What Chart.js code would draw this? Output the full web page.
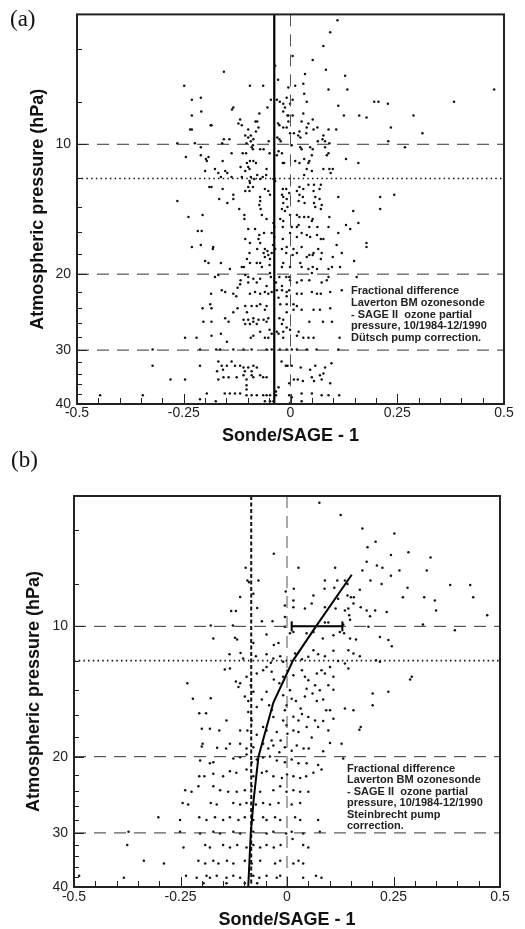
<!DOCTYPE html>
<html>
<head>
<meta charset="utf-8">
<title>Laverton ozonesonde - SAGE II fractional difference</title>
<script src="https://cdn.jsdelivr.net/npm/chart.js@4.4.1/dist/chart.umd.min.js"></script>
<style>
  html, body { margin: 0; padding: 0; background: #fff; }
  body { width: 525px; height: 929px; position: relative; overflow: hidden; }
  canvas { position: absolute; left: 0; }
  #chartA { top: 0; }
  #chartB { top: 460px; }
  .panel { position: absolute; font: 23px/23px 'Liberation Serif', 'Times New Roman', serif; color: #111; }
  .note { position: absolute; font: bold 11px/11.75px 'Liberation Sans', Arial, sans-serif; color: #222; white-space: pre; }
</style>
</head>
<body>
<canvas id="chartA" width="525" height="450"></canvas>
<canvas id="chartB" width="525" height="469"></canvas>
<div class="panel" style="left:10px; top:7px">(a)</div>
<div class="panel" style="left:11px; top:448px">(b)</div>
<div class="note" id="noteA" style="left:351px; top:285px"></div>
<div class="note" id="noteB" style="left:347px; top:763px; line-height:11.4px"></div>
<script>
// axis ticks
const xLabelVals = [-0.5, -0.25, 0, 0.25, 0.5];
const xLabels = ['-0.5', '-0.25', '0', '0.25', '0.5'];
const xMinorStep = 0.05;
const yLabelVals = [10, 20, 30, 40];
const yLabels = ['10', '20', '30', '40'];
const yMinorVals = [6, 8, 12, 14, 16, 18, 22, 24, 26, 28, 32, 34, 36, 38];

const noteA = ['Fractional difference', 'Laverton BM ozonesonde', '- SAGE II  ozone partial',
  'pressure, 10/1984-12/1990', 'Dütsch pump correction.'];
const noteB = ['Fractional difference', 'Laverton BM ozonesonde', '- SAGE II  ozone partial',
  'pressure, 10/1984-12/1990', 'Steinbrecht pump', 'correction.'];

// reference lines
const refPres = [10, 20, 30];
const dotPres = 12;
const aMeanDiff = -0.038;
const bMeanDiff = -0.084;

// (b) smoothed profile and error bar at 10 hPa
const bCurvePres = [7.6, 10, 12, 15, 20, 25, 30, 40];
const bCurveDiff = [0.152, 0.068, 0.014, -0.032, -0.067, -0.078, -0.085, -0.091];
const bErrPres = 10;
const bErrRange = [0.011, 0.130];

// (a) Dütsch correction: pressure levels (hPa) and Sonde/SAGE-1 at each level
const aLevels = [
  5.16, 5.50, 5.92, 6.24, 6.38, 6.58, 6.72, 6.79, 6.87, 6.94,
  7.09, 7.24, 7.32, 7.39, 7.47, 7.64, 7.80, 7.88, 7.97, 8.05,
  8.14, 8.22, 8.31, 8.40, 8.49, 8.58, 8.67, 8.76, 8.85, 8.95,
  9.04, 9.14, 9.24, 9.34, 9.43, 9.54, 9.64, 9.74, 9.84, 9.95,
  10.05, 10.16, 10.27, 10.38, 10.49, 10.60, 10.71, 10.82, 10.94, 11.05,
  11.29, 11.41, 11.53, 11.66, 11.78, 11.91, 12.04, 12.16, 12.29, 12.42,
  12.56, 12.69, 12.83, 12.97, 13.10, 13.25, 13.39, 13.53, 13.68, 13.82,
  13.97, 14.12, 14.27, 14.58, 14.74, 14.90, 15.06, 15.22, 15.38, 15.55,
  15.71, 15.88, 16.05, 16.23, 16.40, 16.58, 16.93, 17.12, 17.30, 17.49,
  17.67, 17.86, 18.05, 18.25, 18.44, 18.64, 18.84, 19.05, 19.25, 19.46,
  19.88, 20.1, 20.3, 20.5, 20.65, 20.9, 21.1, 21.3, 21.5, 21.8,
  22.0, 22.2, 22.5, 22.7, 23.5, 23.7, 24.0, 24.2, 24.5, 25.3,
  25.5, 25.8, 26.1, 26.6, 26.9, 27.2, 27.5, 27.8, 28.1, 28.7,
  29.9, 31.9, 32.2, 32.6, 32.9, 33.3, 33.6, 34.0, 34.3, 34.7,
  35.1, 35.4, 35.8, 36.2, 36.6, 37.0, 37.4, 37.8, 38.2, 38.6,
  39.0, 39.4, 39.8
];
const aDiffs = [
  // 5.16 - 6.94
  [0.110], [0.093], [0.077], [0.005], [0.052], [-0.036], [0.083], [-0.156], [0.034], [0.128],
  // 7.09 - 8.05
  [-0.029], [0.030], [-0.249, -0.095, -0.064, 0.011], [-0.005], [0.089, 0.133, 0.477], [0.032],
  [-0.210, -0.009], [-0.231, -0.046, -0.032, 0.005], [-0.025, 0.038, 0.196, 0.206, 0.383], [-0.017, -0.001, 0.228],
  // 8.14 - 8.95
  [0.112], [-0.134, -0.054, -0.013], [-0.137], [-0.209, -0.017], [-0.073, 0.030],
  [-0.231, -0.007, -0.005, 0.005, 0.125, 0.161, 0.288], [0.178], [-0.118, 0.052],
  [-0.082, -0.078, -0.005, 0.026], [-0.122, -0.029, 0.042],
  // 9.04 - 9.95
  [-0.187, -0.185, -0.114, -0.026], [-0.075, -0.017, -0.009, 0.038, 0.063, 0.235],
  [-0.235, -0.231, -0.099, 0.054, 0.089, 0.107], [-0.081, 0.021], [-0.001, 0.008, 0.037, 0.309],
  [-0.106, -0.093, 0.018, 0.077], [-0.099, -0.031, 0.023], [-0.156, -0.143, -0.087, -0.026, 0.075],
  [-0.093, -0.051, -0.023, 0.064, 0.081, 0.229], [-0.265, -0.224, -0.160, -0.103, 0.091],
  // 10.05 - 11.05
  [-0.088, 0.003], [-0.210, -0.091, 0.023, 0.046, 0.081, 0.268], [-0.088, -0.071, -0.063, 0.026, 0.052],
  [-0.028], [-0.138, -0.112, -0.104, -0.049, -0.020, 0.089], [-0.210, -0.032, 0.050, 0.085],
  [-0.245, -0.192], [-0.198, 0.032, 0.130], [-0.196, -0.159, -0.095, -0.087, 0.011, 0.044],
  [-0.102, -0.081, -0.018, -0.015, 0.021, 0.042, 0.159],
  // 11.29 - 12.42
  [-0.117, -0.099], [-0.177, -0.096, -0.056, 0.038, 0.077, 0.091, 0.099], [-0.200, -0.153, -0.106, 0.050],
  [-0.169, -0.148, 0.094], [-0.078, -0.057, 0.032], [-0.163, -0.138, -0.114, -0.093, -0.065],
  [-0.085, -0.071, -0.040], [-0.096, -0.036], [-0.095], [0.042, 0.055, 0.071],
  // 12.56 - 13.82
  [-0.190, -0.185, -0.099, -0.088, 0.021], [-0.159, -0.060, -0.018, -0.010, 0.030, 0.068],
  [-0.106, -0.096, -0.052, 0.015, 0.054], [-0.003], [-0.134, -0.048, -0.020, 0.021, 0.243],
  [-0.071, -0.017, 0.029, 0.058, 0.112, 0.210], [-0.167, -0.134, -0.009, 0.068], [-0.265, -0.071, 0.019],
  [-0.148, -0.017, 0.033, 0.055], [-0.073, 0.073],
  // 13.97 - 15.55
  [-0.007, 0.058], [-0.120, -0.070, -0.020, 0.071, 0.210], [-0.013, 0.147], [-0.206, -0.108, -0.067, -0.001, 0.015],
  [-0.239, 0.021, 0.032, 0.042, 0.091], [-0.108, -0.056, -0.024, 0.052], [-0.017, 0.050], [-0.040, 0.159],
  [0.019, 0.130], [-0.038, -0.018, 0.003, 0.015, 0.044, 0.063, 0.089],
  // 15.71 - 17.49
  [-0.099, -0.083, 0.140], [-0.217, -0.208], [-0.062, -0.044, -0.001, 0.026, 0.112], [-0.073, 0.038, 0.062],
  [-0.038, 0.015, 0.046], [-0.106, -0.075, -0.018, 0.071, 0.077], [-0.095, -0.071, 0.178], [-0.210, -0.041, 0.108],
  [-0.231, -0.181, -0.009, 0.026, 0.178], [-0.182, -0.078, -0.060, -0.036, -0.020, 0.007, 0.065],
  // 17.67 - 19.46
  [-0.054], [-0.096, -0.063, -0.044, -0.010, 0.015, 0.054, 0.073, 0.120], [-0.052, 0.005, 0.044, 0.052],
  [-0.060, 0.038, 0.099], [-0.102, -0.048, 0.071], [-0.200, 0.149], [-0.192, -0.163, -0.095, -0.079, -0.071, -0.017, 0.023],
  [-0.049], [-0.114, -0.109, -0.067, -0.020, -0.001, 0.026, 0.052, 0.097, 0.116], [-0.142, 0.042, 0.062, 0.089],
  // 19.88 - 21.8
  [-0.048, 0.050], [-0.169, -0.106], [-0.177, -0.099, -0.046, -0.026, -0.010, -0.003, 0.089, 0.155], [-0.087, -0.071],
  [-0.117, -0.001, 0.026, 0.044, 0.085], [-0.099, -0.079, -0.034, 0.015, 0.073], [-0.118], [-0.056, -0.020], [-0.124],
  [-0.161, -0.032, -0.020, -0.003, 0.120],
  // 22.0 - 25.3
  [-0.153, -0.083, -0.060, -0.044, -0.009, 0.050, 0.093], [-0.186, -0.134, -0.095, -0.071, -0.052, 0.015, 0.026, 0.062, 0.071],
  [-0.127, -0.009], [-0.028], [-0.188, -0.071, -0.024, -0.009, 0.007], [-0.106, -0.091, -0.079, -0.056, 0.015],
  [-0.206, -0.185, -0.124, 0.093], [-0.060, 0.007, 0.026, 0.054, 0.069], [-0.134, -0.102, -0.009], [-0.153, -0.087, -0.052, -0.026],
  // 25.5 - 28.7
  [-0.110, -0.099, -0.075, -0.063, -0.017], [-0.204, -0.185, -0.145, -0.087, -0.056, 0.044, 0.076, 0.097],
  [-0.106, -0.095, -0.079, -0.020], [-0.009], [-0.049, -0.001], [-0.071, -0.032, -0.017, 0.019], [-0.163, -0.044, -0.028],
  [-0.185, -0.087, 0.015], [-0.247, -0.220, -0.093, -0.060, -0.052, -0.017, 0.030, 0.042, 0.054, 0.115], [-0.149],
  // 29.9 - 34.7
  [-0.323, -0.212, -0.174, -0.165, -0.134, -0.110, -0.091, -0.056, -0.044, -0.025, -0.009, 0.003, 0.015, 0.038, 0.061, 0.112],
  [-0.169, -0.138, -0.021], [0.096], [-0.323, -0.212, -0.161, -0.149, -0.130, -0.118, -0.087, -0.011, -0.007, 0.003, 0.058],
  [-0.110, -0.099, -0.079, 0.024, 0.081], [-0.158, 0.046], [-0.172, -0.107, -0.091], [0.077], [-0.110, -0.091, -0.071, 0.069],
  [-0.157, -0.145, -0.126, -0.087, -0.064, -0.056, 0.050],
  // 35.1 - 38.6
  [-0.281, -0.247, -0.169, -0.103, 0.008, 0.017, 0.073], [0.029, 0.055], [-0.003, 0.093], [-0.103], [-0.028], [-0.103],
  [-0.034], [-0.196, -0.154, -0.142, -0.130, -0.118, 0.026, 0.050],
  [-0.446, -0.346, -0.103, -0.091, -0.079, -0.064, -0.056, -0.048, -0.034, -0.003, 0.073, 0.089, 0.114], [0.003],
  // 39.0 - 39.8
  [-0.212], [-0.175, -0.060, -0.048, -0.040, 0.026], [-0.001]
];

// (b) Steinbrecht correction
const bLevels = [
  5.18, 5.53, 5.94, 6.10, 6.38, 6.57, 6.74, 6.80, 6.84, 6.93,
  7.09, 7.24, 7.32, 7.43, 7.64, 7.84, 7.91, 7.98, 8.03, 8.15,
  8.19, 8.23, 8.31, 8.41, 8.49, 8.55, 8.57, 8.64, 8.72, 8.86,
  8.95, 9.03, 9.07, 9.10, 9.19, 9.22, 9.27, 9.43, 9.48, 9.52,
  9.66, 9.73, 9.80, 9.90, 9.95, 10.02, 10.21, 10.31, 10.37, 10.44,
  10.49, 10.59, 10.62, 10.67, 10.72, 10.76, 10.92, 11.05, 11.11, 11.35,
  11.39, 11.52, 11.55, 11.60, 11.72, 11.76, 11.86, 11.92, 11.98, 12.02,
  12.08, 12.14, 12.18, 12.41, 12.52, 12.58, 12.63, 12.67, 12.74, 12.85,
  12.97, 13.08, 13.26, 13.32, 13.41, 13.53, 13.68, 13.80, 13.93, 14.01,
  14.04, 14.16, 14.30, 14.43, 14.53, 14.66, 14.70, 14.75, 14.88, 15.22,
  15.36, 15.48, 15.63, 15.78, 15.87, 15.93, 16.17, 16.2, 16.34, 16.5,
  16.55, 16.93, 17.09, 17.24, 17.34, 17.4, 17.55, 17.7, 17.8, 18.05,
  18.35, 18.60, 18.66, 18.84, 18.94, 19.02, 19.08, 19.15, 19.39, 19.44,
  19.53, 19.78, 19.98, 20.06, 20.1, 20.2, 20.3, 20.4, 20.6, 20.7,
  20.9, 21.4, 21.6, 21.8, 21.9, 22.0, 22.2, 22.4, 23.4, 23.9,
  24.1, 25.6, 25.8, 27.6, 28.0, 29.8, 30.1, 31.0, 32.0, 32.4,
  34.8, 35.3, 37.7, 38.1, 39.2
];
const bDiffs = [
  // 5.18 - 6.93
  [0.076], [0.126], [0.177], [0.252], [0.208], [0.189], [0.285], [-0.031], [0.244], [0.337],
  // 7.09 - 8.15
  [0.187], [0.211], [-0.097, 0.027, 0.113, 0.224], [0.177, 0.264, 0.328], [0.244],
  [-0.093, -0.067, 0.089, 0.118, 0.136, 0.196], [-0.089], [0.142, 0.222], [0.383, 0.430], [0.111, 0.283],
  // 8.19 - 8.86
  [0.016, 0.088], [0.171], [-0.003], [-0.079], [0.062, 0.142], [-0.110], [0.150, 0.157, 0.272, 0.322, 0.437],
  [0.120], [0.015, 0.347], [0.058, 0.156],
  // 8.95 - 9.52
  [-0.005], [0.015, 0.089, 0.173], [-0.070], [0.042, 0.114, 0.144], [0.136, 0.187, 0.207, 0.350],
  [-0.131, -0.120], [0.234], [0.146, 0.470], [0.195], [-0.005],
  // 9.66 - 10.44
  [0.148], [-0.059, -0.034], [0.089, 0.097], [0.132, 0.319], [-0.179, -0.127], [-0.005, 0.191], [0.394],
  [0.015, 0.062, 0.124], [0.007, 0.046, 0.134], [-0.048],
  // 10.49 - 11.35
  [0.109], [0.218], [-0.122], [-0.173, 0.084, 0.148], [-0.117, 0.162], [0.238], [-0.079, -0.020], [-0.031],
  [0.246], [0.062, 0.144],
  // 11.39 - 12.02
  [0.109], [-0.109], [0.019, 0.156], [-0.135, -0.048, 0.073], [-0.073, -0.016, 0.089, 0.171], [0.050],
  [-0.103, -0.032], [0.035], [0.209], [0.120],
  // 12.08 - 12.85
  [-0.009, 0.218], [-0.038], [0.136], [-0.048, 0.101], [-0.134, 0.144], [-0.146], [-0.056, 0.035, 0.081],
  [0.001], [-0.036], [-0.071, 0.070, 0.089],
  // 12.97 - 14.01
  [0.015], [-0.095, -0.009, 0.042, 0.109, 0.293], [-0.031, 0.289], [0.050], [-0.120], [-0.234, -0.110, -0.018],
  [-0.085, 0.066, 0.097], [-0.114], [0.046], [0.109],
  // 14.04 - 15.22
  [0.007, 0.077], [-0.079, -0.048, 0.238], [0.060, 0.201], [-0.009], [-0.099, 0.042], [-0.179], [-0.221, 0.011],
  [-0.059, 0.085], [-0.091, 0.021, 0.070], [-0.042, -0.001, 0.201],
  // 15.36 - 16.5
  [-0.071], [0.032, 0.136], [-0.036, -0.005, 0.092, 0.101, 0.156], [-0.091], [-0.206, -0.190], [0.035], [0.015],
  [-0.032, 0.050], [0.109], [-0.142, -0.083, -0.009, 0.027, 0.066],
  // 16.55 - 18.05
  [0.085], [-0.001], [-0.056, 0.046, 0.073, 0.173], [-0.200, -0.181], [0.170], [-0.159, -0.110, -0.093, -0.048, 0.015, 0.097],
  [-0.024, 0.027], [0.001], [-0.071], [0.058],
  // 18.35 - 19.44
  [-0.036, -0.015], [0.101], [-0.198, -0.134, -0.110, -0.056, 0.128], [-0.032, 0.023], [-0.200], [-0.079, -0.005],
  [-0.164], [-0.143, -0.095, -0.044, 0.039, 0.051], [0.011], [0.085],
  // 19.53 - 20.7
  [-0.018], [-0.095], [-0.040], [-0.110], [-0.056], [-0.126, 0.132], [-0.071, 0.011], [-0.204, -0.024],
  [-0.173, -0.083, -0.005], [-0.181, 0.027, 0.046],
  // 20.9 - 23.9
  [0.073], [-0.095, 0.081], [-0.134, -0.048], [-0.119, -0.059, 0.062], [-0.173], [0.000],
  [-0.206, -0.194, -0.150, -0.079, -0.032, 0.015, 0.045], [-0.012, 0.031], [-0.208, -0.173, -0.083, -0.016],
  [-0.239, -0.157, -0.099, -0.032, 0.015],
  // 24.1 - 32.4
  [-0.224, -0.138, -0.118, -0.063, -0.001, 0.031, 0.050], [-0.245, -0.179, -0.126, -0.095, -0.056, -0.020, 0.031],
  [-0.232, -0.165, -0.110, -0.073, -0.040, 0.011], [-0.302, -0.206, -0.169, -0.134, -0.099, -0.056, -0.028, 0.019],
  [-0.251, -0.189, -0.150, -0.114, -0.079, -0.048, -0.016, 0.031, 0.073],
  [-0.372, -0.251, -0.173, -0.126, -0.079, -0.032, 0.011, 0.077], [-0.204, -0.157, -0.110, -0.048, -0.002, 0.038],
  [0.013], [-0.375, -0.192, -0.150, -0.117, -0.079, -0.048, -0.015, 0.038],
  [-0.243, -0.181, -0.134, -0.095, -0.063, -0.031, 0.050],
  // 34.8 - 39.2
  [-0.336, -0.208, -0.173, -0.141, -0.099, -0.063, -0.016, 0.027],
  [-0.289, -0.192, -0.161, -0.126, -0.083, -0.028, 0.015, 0.038],
  [-0.488, -0.237, -0.189, -0.165, -0.126, -0.079, -0.048, -0.016, 0.068],
  [-0.383, -0.212, -0.181, -0.142, -0.110, -0.065, -0.024, 0.038, 0.081],
  [-0.196, -0.142, -0.099, -0.070]
];

Chart.defaults.font.family = "'Liberation Sans', Arial, Helvetica, sans-serif";
Chart.defaults.color = '#222';

const presTop = 5, presBottom = 40;
const diffMin = -0.5, diffMax = 0.5;

function levelPoints(levels, diffs) {
  if (levels.length !== diffs.length) console.error('level/diff mismatch', levels.length, diffs.length);
  const pts = [];
  levels.forEach((p, i) => diffs[i].forEach(d => pts.push({ x: d, y: p })));
  return pts;
}

function lineSet(data, width, dash, color) {
  return {
    data: data, showLine: true, borderColor: color || '#111', borderWidth: width,
    borderDash: dash || [], pointRadius: 0, tension: 0, fill: false
  };
}

function vline(x) { return [{ x: x, y: presTop }, { x: x, y: presBottom }]; }
function hline(p) { return [{ x: diffMin, y: p }, { x: diffMax, y: p }]; }

function labelFor(v, vals, labels) {
  const i = vals.findIndex(t => Math.abs(t - v) < 1e-9);
  return i < 0 ? '' : labels[i];
}

const xTicks = [];
for (let v = diffMin; v <= diffMax + 1e-9; v += xMinorStep) xTicks.push(Math.round(v * 100) / 100);
const yTicks = yMinorVals.concat(yLabelVals).sort((a, b) => a - b);

// frame and inward tick marks
const frame = {
  id: 'frame',
  afterDatasetsDraw(chart) {
    const { ctx, chartArea: a, scales: { x, y } } = chart;
    ctx.save();
    ctx.strokeStyle = '#222';
    ctx.lineWidth = 1;
    ctx.beginPath();
    x.ticks.forEach(t => {
      const px = Math.round(x.getPixelForValue(t.value)) + 0.5;
      const len = t.label ? 10 : 6;
      ctx.moveTo(px, a.bottom); ctx.lineTo(px, a.bottom - len);
    });
    y.ticks.forEach(t => {
      const py = Math.round(y.getPixelForValue(t.value)) + 0.5;
      const len = t.label ? 10 : 5;
      ctx.moveTo(a.left, py); ctx.lineTo(a.left + len, py);
    });
    ctx.stroke();
    ctx.lineWidth = 2;
    ctx.strokeRect(a.left, a.top, a.right - a.left, a.bottom - a.top);
    ctx.restore();
  }
};

function makeChart(id, c) {
  return new Chart(document.getElementById(id), {
    type: 'scatter',
    data: { datasets: c.datasets },
    options: {
      responsive: false,
      animation: false,
      events: [],
      layout: { padding: c.padding },
      plugins: { legend: { display: false }, tooltip: { enabled: false } },
      scales: {
        x: {
          type: 'linear', min: diffMin, max: diffMax,
          afterBuildTicks: s => { s.ticks = xTicks.map(v => ({ value: v })); },
          afterFit: s => { s.height = c.xHeight; },
          grid: { display: false, drawTicks: false },
          border: { display: false },
          ticks: {
            autoSkip: false, maxRotation: 0, padding: c.xPad, color: '#222',
            font: { size: 14 },
            callback: v => labelFor(v, xLabelVals, xLabels)
          },
          title: {
            display: true, text: 'Sonde/SAGE - 1', color: '#111',
            font: { size: 18, weight: 'bold', lineHeight: 1 },
            padding: { top: 0, bottom: c.xTitlePad }
          }
        },
        y: {
          type: 'logarithmic', reverse: true, min: presTop, max: presBottom,
          afterBuildTicks: s => { s.ticks = yTicks.map(v => ({ value: v })); },
          afterFit: s => { s.width = c.yWidth; },
          grid: { display: false, drawTicks: false },
          border: { display: false },
          ticks: {
            autoSkip: false, padding: 6, color: '#222',
            font: { size: 14 },
            callback: v => labelFor(v, yLabelVals, yLabels)
          },
          title: {
            display: true, text: 'Atmospheric pressure (hPa)', color: '#111',
            font: { size: 18, weight: 'bold', lineHeight: 1 },
            padding: { top: c.yTitlePad, bottom: 0 }
          }
        }
      }
    },
    plugins: [frame]
  });
}

function commonRefs(zeroDash) {
  const sets = refPres.map(p => lineSet(hline(p), 1, [12, 8], '#333'));
  sets.push(lineSet(hline(dotPres), 1.6, [1.5, 3.2], '#111'));
  sets.push(lineSet(vline(0), 1, zeroDash, '#555'));
  return sets;
}

function pointSet(data) {
  return {
    data: data, pointRadius: 1.25, pointBackgroundColor: '#111',
    pointBorderWidth: 0, showLine: false
  };
}

// panel (a)
const aSets = [lineSet(vline(aMeanDiff), 2.2, [], '#000')]
  .concat(commonRefs([12, 8]))
  .concat([pointSet(levelPoints(aLevels, aDiffs))]);

makeChart('chartA', {
  datasets: aSets,
  padding: { left: 0, top: 14, right: 21, bottom: 0 },
  yWidth: 77, xHeight: 46, xPad: 1, xTitlePad: 5, yTitlePad: 29
});

// panel (b)
const bCurve = bCurvePres.map((p, i) => ({ x: bCurveDiff[i], y: p }));
const bErr = bErrRange.map(d => ({ x: d, y: bErrPres }));
const bSets = [
  lineSet(bCurve, 2, [], '#000'),
  Object.assign(lineSet(bErr, 2, [], '#000'), {
    pointRadius: 5, pointStyle: 'line', rotation: 90, pointBorderWidth: 2, pointBorderColor: '#000'
  }),
  lineSet(vline(bMeanDiff), 2, [4, 2.5], '#111')
].concat(commonRefs([12, 8]))
  .concat([pointSet(levelPoints(bLevels, bDiffs))]);

makeChart('chartB', {
  datasets: bSets,
  padding: { left: 0, top: 36, right: 25, bottom: 0 },
  yWidth: 74, xHeight: 42, xPad: 2, xTitlePad: 0, yTitlePad: 25
});

document.getElementById('noteA').textContent = noteA.join('\n');
document.getElementById('noteB').textContent = noteB.join('\n');
</script>
</body>
</html>
